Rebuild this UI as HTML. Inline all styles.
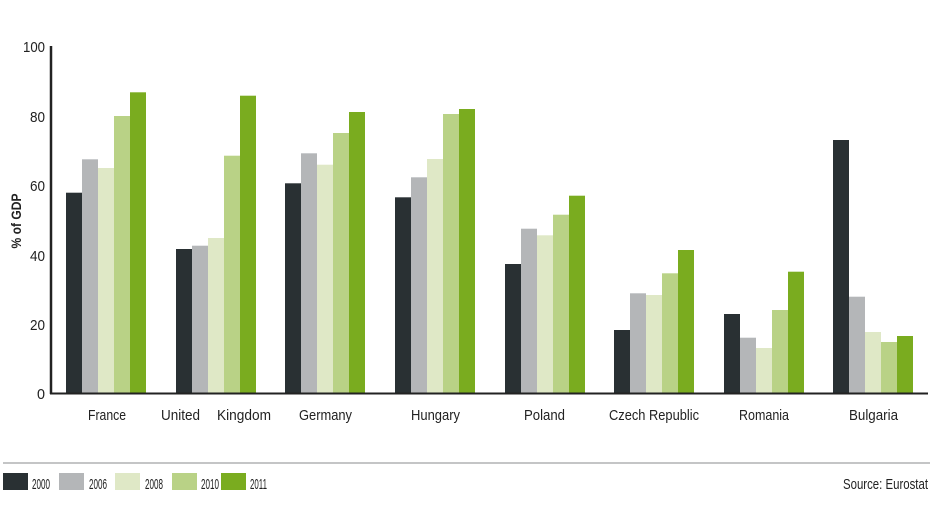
<!DOCTYPE html>
<html><head><meta charset="utf-8"><style>
html,body{margin:0;padding:0;background:#fff;}
svg text{font-family:"Liberation Sans",sans-serif;fill:#222;}
</style></head><body>
<svg width="940" height="508" viewBox="0 0 940 508" xmlns="http://www.w3.org/2000/svg">
<g font-size="15" text-anchor="end" lengthAdjust="spacingAndGlyphs">
<text x="45" y="52" textLength="22" lengthAdjust="spacingAndGlyphs">100</text>
<text x="45" y="122" textLength="15" lengthAdjust="spacingAndGlyphs">80</text>
<text x="45" y="191" textLength="15" lengthAdjust="spacingAndGlyphs">60</text>
<text x="45" y="261" textLength="15" lengthAdjust="spacingAndGlyphs">40</text>
<text x="45" y="330" textLength="15" lengthAdjust="spacingAndGlyphs">20</text>
<text x="45" y="399" textLength="8" lengthAdjust="spacingAndGlyphs">0</text>
</g>
<text transform="translate(21,221) rotate(-90)" font-size="14" font-weight="bold" text-anchor="middle" textLength="55" lengthAdjust="spacingAndGlyphs">% of GDP</text>
<g>
<rect x="66" y="192.7" width="16" height="200.3" fill="#293033"/>
<rect x="82" y="159.3" width="16" height="233.7" fill="#b4b6b8"/>
<rect x="98" y="168" width="16" height="225" fill="#dfe8c6"/>
<rect x="114" y="116" width="16" height="277" fill="#b9d286"/>
<rect x="130" y="92.3" width="16" height="300.7" fill="#7aac1f"/>
<rect x="176" y="249" width="16" height="144" fill="#293033"/>
<rect x="192" y="245.7" width="16" height="147.3" fill="#b4b6b8"/>
<rect x="208" y="238" width="16" height="155" fill="#dfe8c6"/>
<rect x="224" y="155.7" width="16" height="237.3" fill="#b9d286"/>
<rect x="240" y="95.7" width="16" height="297.3" fill="#7aac1f"/>
<rect x="285" y="183.3" width="16" height="209.7" fill="#293033"/>
<rect x="301" y="153.3" width="16" height="239.7" fill="#b4b6b8"/>
<rect x="317" y="164.7" width="16" height="228.3" fill="#dfe8c6"/>
<rect x="333" y="133" width="16" height="260" fill="#b9d286"/>
<rect x="349" y="112" width="16" height="281" fill="#7aac1f"/>
<rect x="395" y="197.3" width="16" height="195.7" fill="#293033"/>
<rect x="411" y="177.3" width="16" height="215.7" fill="#b4b6b8"/>
<rect x="427" y="159" width="16" height="234" fill="#dfe8c6"/>
<rect x="443" y="114" width="16" height="279" fill="#b9d286"/>
<rect x="459" y="109" width="16" height="284" fill="#7aac1f"/>
<rect x="505" y="264" width="16" height="129" fill="#293033"/>
<rect x="521" y="228.7" width="16" height="164.3" fill="#b4b6b8"/>
<rect x="537" y="235.3" width="16" height="157.7" fill="#dfe8c6"/>
<rect x="553" y="214.7" width="16" height="178.3" fill="#b9d286"/>
<rect x="569" y="195.7" width="16" height="197.3" fill="#7aac1f"/>
<rect x="614" y="330" width="16" height="63" fill="#293033"/>
<rect x="630" y="293.3" width="16" height="99.7" fill="#b4b6b8"/>
<rect x="646" y="295" width="16" height="98" fill="#dfe8c6"/>
<rect x="662" y="273.3" width="16" height="119.7" fill="#b9d286"/>
<rect x="678" y="250" width="16" height="143" fill="#7aac1f"/>
<rect x="724" y="314" width="16" height="79" fill="#293033"/>
<rect x="740" y="337.7" width="16" height="55.3" fill="#b4b6b8"/>
<rect x="756" y="348" width="16" height="45" fill="#dfe8c6"/>
<rect x="772" y="310" width="16" height="83" fill="#b9d286"/>
<rect x="788" y="271.7" width="16" height="121.3" fill="#7aac1f"/>
<rect x="833" y="140" width="16" height="253" fill="#293033"/>
<rect x="849" y="296.7" width="16" height="96.3" fill="#b4b6b8"/>
<rect x="865" y="332" width="16" height="61" fill="#dfe8c6"/>
<rect x="881" y="342" width="16" height="51" fill="#b9d286"/>
<rect x="897" y="336" width="16" height="57" fill="#7aac1f"/>
</g>
<line x1="51" y1="46" x2="51" y2="394" stroke="#222" stroke-width="2.5"/>
<line x1="50" y1="393.5" x2="928" y2="393.5" stroke="#222" stroke-width="2"/>
<g font-size="15">
<text x="88" y="420" textLength="38" lengthAdjust="spacingAndGlyphs">France</text>
<text x="161" y="420" textLength="39" lengthAdjust="spacingAndGlyphs">United</text>
<text x="217" y="420" textLength="54" lengthAdjust="spacingAndGlyphs">Kingdom</text>
<text x="299" y="420" textLength="53" lengthAdjust="spacingAndGlyphs">Germany</text>
<text x="411" y="420" textLength="49" lengthAdjust="spacingAndGlyphs">Hungary</text>
<text x="524" y="420" textLength="41" lengthAdjust="spacingAndGlyphs">Poland</text>
<text x="609" y="420" textLength="90" lengthAdjust="spacingAndGlyphs">Czech Republic</text>
<text x="739" y="420" textLength="50" lengthAdjust="spacingAndGlyphs">Romania</text>
<text x="849" y="420" textLength="49" lengthAdjust="spacingAndGlyphs">Bulgaria</text>
</g>
<line x1="3" y1="463" x2="930" y2="463" stroke="#b0b2b4" stroke-width="1.5"/>
<rect x="3" y="473" width="25" height="17" fill="#293033"/>
<rect x="59" y="473" width="25" height="17" fill="#b4b6b8"/>
<rect x="115" y="473" width="25" height="17" fill="#dfe8c6"/>
<rect x="172" y="473" width="25" height="17" fill="#b9d286"/>
<rect x="221" y="473" width="25" height="17" fill="#7aac1f"/>
<g font-size="15">
<text x="32" y="489" textLength="18" lengthAdjust="spacingAndGlyphs">2000</text>
<text x="89" y="489" textLength="18" lengthAdjust="spacingAndGlyphs">2006</text>
<text x="145" y="489" textLength="18" lengthAdjust="spacingAndGlyphs">2008</text>
<text x="201" y="489" textLength="18" lengthAdjust="spacingAndGlyphs">2010</text>
<text x="250" y="489" textLength="17" lengthAdjust="spacingAndGlyphs">2011</text>
<text x="843" y="489" textLength="85" lengthAdjust="spacingAndGlyphs">Source: Eurostat</text>
</g>
</svg>
</body></html>
